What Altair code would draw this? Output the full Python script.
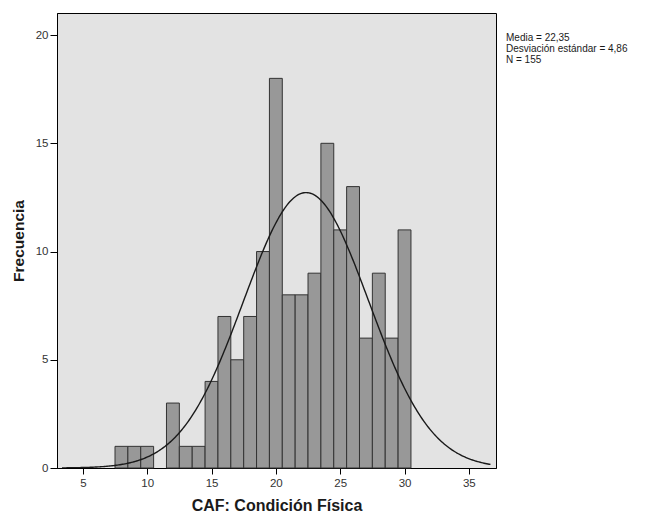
import altair as alt
import pandas as pd

# Histogram bins (centre of each 1-unit bin) and frequencies
bin_centers = [8, 9, 10, 11, 12, 13, 14, 15, 16, 17, 18, 19, 20, 21, 22, 23, 24, 25, 26, 27, 28, 29, 30]
frequencies = [1, 1, 1, 0, 3, 1, 1, 4, 7, 5, 7, 10, 18, 8, 8, 9, 15, 11, 13, 6, 9, 6, 11]

# Summary statistics shown on the chart
mean_value = 22.35
sd_value = 4.86
n_value = 155
stats_lines = ["Media = 22,35", "Desviación estándar = 4,86", "N = 155"]

x_ticks = [5, 10, 15, 20, 25, 30, 35]
y_ticks = [0, 5, 10, 15, 20]

FONT = "Liberation Sans"
X_DOMAIN = [3.38, 36.72]
Y_DOMAIN = [0, 21.02]

bars_df = pd.DataFrame({"center": bin_centers, "count": frequencies})

xscale = alt.Scale(domain=X_DOMAIN, nice=False, zero=False)
yscale = alt.Scale(domain=Y_DOMAIN, nice=False)

x_axis = alt.Axis(values=x_ticks, title="CAF: Condición Física", grid=False,
                  tickSize=6, tickColor="black", domainColor="black",
                  labelFont=FONT, labelFontSize=11.5, labelColor="#333333",
                  titleFont=FONT, titleFontSize=16, titleFontWeight="bold",
                  titleColor="#1a1a1a", titlePadding=9, labelPadding=3)
y_axis = alt.Axis(values=y_ticks, title="Frecuencia", grid=False,
                  tickSize=7, tickColor="black", domainColor="black",
                  labelFont=FONT, labelFontSize=11.5, labelColor="#333333",
                  titleFont=FONT, titleFontSize=15.5, titleFontWeight="bold",
                  titleColor="#1a1a1a", titlePadding=9, labelPadding=2)

bars = alt.Chart(bars_df).transform_filter(
    alt.datum.count > 0
).transform_calculate(
    x0="datum.center - 0.5", x1="datum.center + 0.5"
).mark_bar(fill="#989898", stroke="#333333", strokeWidth=1, opacity=1, orient="vertical").encode(
    x=alt.X("x0:Q", scale=xscale, axis=x_axis),
    x2="x1:Q",
    y=alt.Y("count:Q", scale=yscale, axis=y_axis),
    y2=alt.datum(0),
)

curve = alt.Chart(alt.sequence(X_DOMAIN[0], X_DOMAIN[1] + 0.001, 0.1, as_="x")).transform_calculate(
    y=f"{n_value} * exp(-0.5 * pow((datum.x - {mean_value}) / {sd_value}, 2)) / ({sd_value} * sqrt(2 * PI))"
).mark_line(color="#1a1a1a", strokeWidth=1.4, clip=True).encode(
    x=alt.X("x:Q", scale=xscale),
    y=alt.Y("y:Q", scale=yscale, title="Frecuencia"),
)

stat_layers = []
for k, line in enumerate(stats_lines):
    stat_layers.append(
        alt.Chart(pd.DataFrame({"line": [line]})).mark_text(
            align="left", baseline="middle", font=FONT, fontSize=10, color="#1a1a1a"
        ).encode(
            x=alt.value(449),
            y=alt.value(25 + 11 * k),
            text="line:N",
        )
    )

chart = alt.layer(bars, curve, *stat_layers).properties(
    width=439, height=455,
    padding={"left": 57, "top": 13, "right": 150, "bottom": 47},
    autosize=alt.AutoSizeParams(type="none"),
    background="white",
).configure_view(
    fill="#E3E3E3", stroke="black", strokeWidth=1
)

chart.save("out.html", embed_options={"renderer": "svg", "actions": False})
